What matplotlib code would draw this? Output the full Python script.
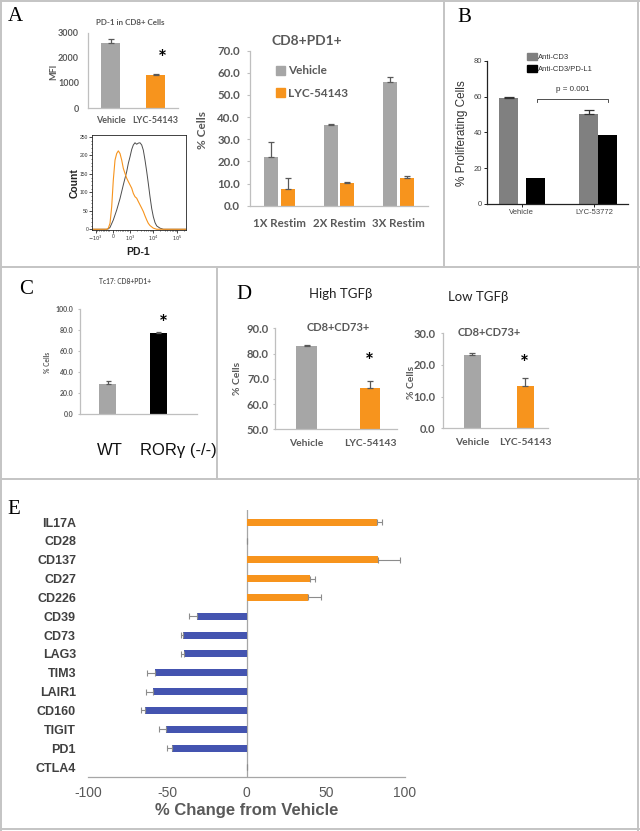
import numpy as np
import matplotlib
matplotlib.use('Agg')
import matplotlib.pyplot as plt
from matplotlib.lines import Line2D
from matplotlib.patches import Patch
from matplotlib.ticker import FixedLocator, SymmetricalLogLocator, MultipleLocator

W, H = 640, 831

# ---------------- data ----------------
# Panel A: MFI
mfi_groups = ['Vehicle', 'LYC-54143']
mfi_values = [2600, 1320]
mfi_err = [160, 50]

# Panel A: flow histogram (PD-1 intensity, count)
hist_gray_x = [-1393, -360, -266, -168, 23, 220, 412, 603, 800, 893, 992, 1167, 1368, 1614,
               1910, 2239, 2649, 3133, 3673, 4345, 5140, 6012, 7112, 8414, 9863, 11668,
               13804, 19099, 26546, 249000]
hist_gray_y = [0, 0, 1, 5, 25, 52, 83, 120, 156, 178, 196, 216, 228, 234,
               230, 233, 234, 228, 214, 187, 156, 124, 88, 56, 34, 18,
               9, 3, 0, 0]
hist_orange_x = [-1393, -360, -266, -168, -70, 23, 122, 220, 314, 412, 511, 603, 701, 800,
                 893, 992, 1167, 1368, 1614, 1910, 2239, 2649, 3133, 3673, 4345, 5140,
                 6012, 7112, 9863, 13804, 249000]
hist_orange_y = [0, 0, 3, 16, 61, 133, 187, 205, 212, 205, 187, 165, 151, 138,
                 129, 120, 111, 97, 88, 84, 75, 66, 57, 48, 36, 25,
                 16, 10, 3, 0, 0]
hist_xticks = [-1000, 0, 1000, 10000, 100000]
hist_xticklabels = ['$-10^3$', '0', '$10^3$', '$10^4$', '$10^5$']
hist_yticks = [0, 50, 100, 150, 200, 250]

# Panel A: CD8+PD1+
restim_groups = ['1X Restim', '2X Restim', '3X Restim']
restim_vehicle = [22.1, 36.4, 55.9]
restim_vehicle_err = [6.7, 0.5, 2.1]
restim_lyc = [7.5, 10.1, 12.5]
restim_lyc_err = [4.9, 0.7, 1.0]

# Panel B
prolif_groups = ['Vehicle', 'LYC-53772']
prolif_cd3 = [59.1, 50.2]
prolif_cd3_err = [0.9, 2.4]
prolif_pdl1 = [14.4, 38.4]
prolif_pdl1_err = [0.2, 0.2]

# Panel C
tc17_groups = ['WT', 'RORγ (-/-)']
tc17_values = [28.3, 76.9]
tc17_err = [3.5, 1.3]

# Panel D
cd73_groups = ['Vehicle', 'LYC-54143']
cd73_high = [83.0, 66.5]
cd73_high_err = [0.4, 2.6]
cd73_low = [23.1, 13.5]
cd73_low_err = [0.6, 2.5]

# Panel E
markers = ['IL17A', 'CD28', 'CD137', 'CD27', 'CD226', 'CD39', 'CD73', 'LAG3',
           'TIM3', 'LAIR1', 'CD160', 'TIGIT', 'PD1', 'CTLA4']
change = [82.5, 0.0, 83.0, 40.0, 39.0, -31.4, -40.3, -39.4,
          -57.5, -59.2, -63.8, -50.8, -46.8, 0.0]
change_err = [3.0, 0.0, 14.0, 3.0, 8.0, 4.6, 1.2, 2.1,
              5.5, 4.4, 3.0, 4.6, 3.5, 0.0]

# ---------------- styles ----------------
CAL = ['Lato', 'DejaVu Sans']
ARIAL = ['Liberation Sans', 'DejaVu Sans']
TIMES = ['Liberation Serif', 'DejaVu Serif']
plt.rcParams['font.family'] = CAL
plt.rcParams['axes.unicode_minus'] = False
GRAY = '#A6A6A6'
ORANGE = '#F7941D'
BLUE = '#4454B0'
TXT = '#595959'
AXC = '#BFBFBF'
BORDER = '#C4C4C4'

fig = plt.figure(figsize=(W / 100, H / 100), dpi=100)


def px_axes(l, t, r, b):
    return fig.add_axes([l / W, 1 - b / H, (r - l) / W, (b - t) / H])


def ftext(x, y, s, **kw):
    kw.setdefault('ha', 'center')
    kw.setdefault('va', 'center')
    return fig.text(x / W, 1 - y / H, s, **kw)


def style_labels(ax, family, size, weight, color):
    for lbl in ax.get_xticklabels() + ax.get_yticklabels():
        lbl.set_family(family)
        lbl.set_fontsize(size)
        lbl.set_fontweight(weight)
        lbl.set_color(color)


def excel_axes(ax, ylen_px=3, ypad_px=5, xpad_px=8):
    for s in ['top', 'right']:
        ax.spines[s].set_visible(False)
    for s in ['left', 'bottom']:
        ax.spines[s].set_color(AXC)
        ax.spines[s].set_linewidth(0.9)
    ax.tick_params(axis='y', direction='out', length=ylen_px * 0.72, width=0.8,
                   color=AXC, pad=ypad_px * 0.72)
    ax.tick_params(axis='x', length=0, pad=xpad_px * 0.72)


def up_err(ax, x, y, e, color='#595959', cap=2.5):
    ax.errorbar(x, y, yerr=[np.zeros(len(e)), e], fmt='none', ecolor=color,
                elinewidth=0.9, capsize=cap, capthick=0.9, zorder=3)


# ---------------- panel borders ----------------
def hline(y, x1, x2):
    fig.add_artist(Line2D([x1 / W, x2 / W], [1 - y / H, 1 - y / H],
                          transform=fig.transFigure, color=BORDER, lw=1.4))


def vline(x, y1, y2):
    fig.add_artist(Line2D([x / W, x / W], [1 - y1 / H, 1 - y2 / H],
                          transform=fig.transFigure, color=BORDER, lw=1.4))


hline(0.8, 0, 640)
hline(266.5, 0, 640)
hline(479, 0, 640)
hline(828.5, 0, 640)
vline(1, 0, 831)
vline(637.5, 0, 831)
vline(443.5, 0, 266.5)
vline(217, 266.5, 479)

# ---------------- Panel A: MFI ----------------
ax = px_axes(88, 33, 178, 108)
xm = np.arange(len(mfi_groups))
ax.bar(xm, mfi_values, 0.42, color=[GRAY, ORANGE], zorder=2)
up_err(ax, xm, mfi_values, mfi_err, cap=2.5)
ax.set_xlim(-0.5, 1.5)
ax.set_ylim(0, 3000)
ax.set_yticks([0, 1000, 2000, 3000])
ax.set_xticks(xm, mfi_groups)
excel_axes(ax, ylen_px=0, ypad_px=9, xpad_px=8)
style_labels(ax, CAL, 6.5, 'bold', TXT)
ftext(130, 22.5, 'PD-1 in CD8+ Cells', fontsize=5.8, color=TXT, weight='bold')
ftext(54, 72, 'MFI', rotation=90, fontsize=6.5, color=TXT, weight='bold')
ftext(162, 59, '*', fontsize=15, color='black', weight='bold')

# ---------------- Panel A: histogram ----------------
ax = px_axes(92.3, 135, 186, 230)
ax.set_xscale('symlog', linthresh=1000, linscale=0.666, base=10)
ax.plot(hist_gray_x, hist_gray_y, color='#4D4D4D', lw=0.7)
ax.plot(hist_orange_x, hist_orange_y, color=ORANGE, lw=0.8)
ax.set_xlim(-1393, 249000)
ax.set_ylim(-2, 255)
ax.xaxis.set_major_locator(FixedLocator(hist_xticks))
ax.set_xticklabels(hist_xticklabels)
ax.xaxis.set_minor_locator(SymmetricalLogLocator(linthresh=1000, base=10,
                                                 subs=np.arange(2, 10)))
ax.set_yticks(hist_yticks)
ax.yaxis.set_minor_locator(MultipleLocator(10))
for s in ax.spines.values():
    s.set_linewidth(0.6)
    s.set_color('#222222')
ax.tick_params(which='major', direction='out', length=2, width=0.5, pad=1,
               labelsize=3.6, labelcolor='#333333')
ax.tick_params(which='minor', direction='out', length=1, width=0.4)
style_labels(ax, ARIAL, 3.6, 'normal', '#333333')
ftext(138, 252, 'PD-1', fontsize=7.5, weight='bold', family=ARIAL, color='#222222')
ftext(75, 183, 'Count', rotation=90, fontsize=7.5, weight='bold', family=ARIAL,
      color='#222222')

# ---------------- Panel A: CD8+PD1+ ----------------
ax = px_axes(250, 50.7, 428, 205.7)
xr = np.arange(len(restim_groups))
ax.bar(xr - 0.14, restim_vehicle, 0.24, color=GRAY, zorder=2)
ax.bar(xr + 0.14, restim_lyc, 0.24, color=ORANGE, zorder=2)
up_err(ax, xr - 0.14, restim_vehicle, restim_vehicle_err, cap=2.2)
up_err(ax, xr + 0.14, restim_lyc, restim_lyc_err, cap=2.2)
ax.set_xlim(-0.5, 2.5)
ax.set_ylim(0, 70)
ax.set_yticks(np.arange(0, 71, 10), [f'{v:.1f}' for v in np.arange(0, 71, 10)])
ax.set_xticks(xr, restim_groups)
excel_axes(ax, ylen_px=3, ypad_px=7, xpad_px=12)
style_labels(ax, CAL, 8.3, 'bold', TXT)
leg = ax.legend([Patch(color=GRAY), Patch(color=ORANGE)], ['Vehicle', 'LYC-54143'],
                loc='upper left', bbox_to_anchor=(0.146, 0.905), frameon=False,
                borderpad=0, borderaxespad=0, handlelength=0.75, handleheight=0.75,
                handletextpad=0.25, labelspacing=0.95,
                prop=dict(family=CAL, weight='bold', size=8.5))
for t in leg.get_texts():
    t.set_color(TXT)
ftext(307, 41, 'CD8+PD1+', fontsize=10, weight='bold', color=TXT)
ftext(203, 130, '% Cells', rotation=90, fontsize=8.5, weight='bold', color=TXT)

# ---------------- Panel B ----------------
ax = px_axes(487, 61, 628, 204)
ax.bar([0.62, 2.89], prolif_cd3, 0.54, color='#808080', zorder=2)
ax.bar([1.376, 3.41], prolif_pdl1, 0.54, color='#000000', zorder=2)
up_err(ax, [0.62, 2.89], prolif_cd3, prolif_cd3_err, color='#333333', cap=3.5)
ax.set_xlim(0, 4)
ax.set_ylim(0, 80)
ax.set_yticks([0, 20, 40, 60, 80])
ax.set_xticks([0.98, 3.04], prolif_groups)
for s in ['top', 'right']:
    ax.spines[s].set_visible(False)
for s in ['left', 'bottom']:
    ax.spines[s].set_color('#222222')
    ax.spines[s].set_linewidth(0.9)
ax.tick_params(direction='out', length=2.2, width=0.7, color='#222222', pad=1.5)
style_labels(ax, ARIAL, 5.5, 'normal', '#444444')
ax.plot([1.41, 1.41, 3.44, 3.44], [57.2, 58.6, 58.6, 57.2], color='#333333', lw=0.6)
ax.text(2.44, 63.8, 'p = 0.001', ha='center', va='center', fontsize=5.8,
        family=ARIAL, color='#333333')
leg = ax.legend([Patch(color='#808080'), Patch(color='#000000')],
                ['Anti-CD3', 'Anti-CD3/PD-L1'],
                loc='upper left', bbox_to_anchor=(0.284, 1.056), frameon=False,
                borderpad=0, borderaxespad=0, handlelength=1.25, handleheight=1.1,
                handletextpad=0.2, labelspacing=0.45,
                prop=dict(family=ARIAL, size=5.5))
for t in leg.get_texts():
    t.set_color('#333333')
ftext(462, 133, '% Proliferating Cells', rotation=90, fontsize=8.5, family=ARIAL,
      color='#333333')

# ---------------- Panel C ----------------
ax = px_axes(80, 309, 197, 414)
xc = np.arange(len(tc17_groups))
ax.bar(xc, tc17_values, 0.33, color=[GRAY, '#000000'], zorder=2)
up_err(ax, xc, tc17_values, tc17_err, cap=1.8)
ax.set_xlim(-0.548, 1.767)
ax.set_ylim(0, 100)
ax.set_yticks(np.arange(0, 101, 20), [f'{v:.1f}' for v in np.arange(0, 101, 20)])
ax.set_xticks(xc, ['', ''])
excel_axes(ax, ylen_px=2, ypad_px=4.5, xpad_px=27)
style_labels(ax, CAL, 5, 'bold', TXT)
for xpos, name in zip([110, 178], tc17_groups):
    ftext(xpos, 450, name, fontsize=12, family=ARIAL, color='#111111')
ftext(125, 282, 'Tc17: CD8+PD1+', fontsize=4.8, weight='bold', color=TXT)
ftext(47, 362, '% Cells', rotation=90, fontsize=4.8, weight='bold', color=TXT)
ftext(163, 324, '*', fontsize=15, color='black', weight='bold')

# ---------------- Panel D ----------------
for (l, t, r, b, lo, hi, vals, errs, xl, yl_x, yl_y, ttl_x, ttl_y, star, step) in [
        (275, 328.3, 396.7, 429.3, 50, 90, cd73_high, cd73_high_err, (-0.498, 1.42),
         237, 378, 338, 327, (369.5, 362), 10),
        (443.3, 333.3, 548.3, 428.3, 0, 30, cd73_low, cd73_low_err, (-0.547, 1.44),
         412, 382, 489, 332, (524.5, 364), 10)]:
    ax = px_axes(l, t, r, b)
    xd = np.arange(len(cd73_groups))
    ax.bar(xd, vals, 0.32, bottom=0, color=[GRAY, ORANGE], zorder=2)
    up_err(ax, xd, vals, errs, cap=2.2)
    ax.set_xlim(*xl)
    ax.set_ylim(lo, hi)
    tv = np.arange(lo, hi + 1, step)
    ax.set_yticks(tv, [f'{v:.1f}' for v in tv])
    ax.set_xticks(xd, cd73_groups)
    excel_axes(ax, ylen_px=2, ypad_px=4 if lo == 50 else 6, xpad_px=10)
    style_labels(ax, CAL, 8, 'bold', TXT)
    for lbl in ax.get_xticklabels():
        lbl.set_fontsize(7.4)
    ftext(yl_x, yl_y, '% Cells', rotation=90, fontsize=7.5, weight='bold', color=TXT)
    ftext(ttl_x, ttl_y, 'CD8+CD73+', fontsize=8, weight='bold', color=TXT)
    ftext(star[0], star[1], '*', fontsize=15, color='black', weight='bold')
ftext(341, 294, 'High TGFβ', fontsize=9.5, color='#222222')
ftext(478, 297, 'Low TGFβ', fontsize=9.5, color='#222222')

# ---------------- Panel E ----------------
ax = px_axes(88, 510, 405, 777)
ye = np.arange(len(markers))
cols = [ORANGE if v > 0 else BLUE for v in change]
ax.barh(ye, change, 0.37, color=cols, zorder=2)
lo_e = [e if v < 0 else 0 for v, e in zip(change, change_err)]
hi_e = [e if v > 0 else 0 for v, e in zip(change, change_err)]
ax.errorbar(change, ye, xerr=[lo_e, hi_e], fmt='none', ecolor='#8C8C8C',
            elinewidth=0.8, capsize=2.3, capthick=0.8, zorder=3)
ax.axvline(0, color='#A6A6A6', lw=0.9, zorder=1)
ax.set_xlim(-100, 100)
ax.set_ylim(13.53, -0.64)
ax.set_yticks(ye, markers)
ax.set_xticks([-100, -50, 0, 50, 100])
for s in ['top', 'right', 'left']:
    ax.spines[s].set_visible(False)
ax.spines['bottom'].set_color('#A6A6A6')
ax.spines['bottom'].set_linewidth(0.9)
ax.tick_params(axis='y', length=0, pad=12 * 0.72)
ax.tick_params(axis='x', length=0, pad=9 * 0.72)
for lbl in ax.get_yticklabels():
    lbl.set_family(ARIAL)
    lbl.set_fontsize(9)
    lbl.set_fontweight('bold')
    lbl.set_color('#404040')
for lbl in ax.get_xticklabels():
    lbl.set_family(ARIAL)
    lbl.set_fontsize(10)
    lbl.set_color('#595959')
ftext(246.5, 811, '% Change from Vehicle', fontsize=12, weight='bold', family=ARIAL,
      color='#595959')

# ---------------- panel letters ----------------
for (x, y, s) in [(15, 16.5, 'A'), (464, 18, 'B'), (26.5, 290, 'C'), (244, 294.5, 'D'),
                  (13.5, 509.5, 'E')]:
    ftext(x, y, s, fontsize=15, family=TIMES, color='black')

fig.savefig('out.png', dpi=100)
